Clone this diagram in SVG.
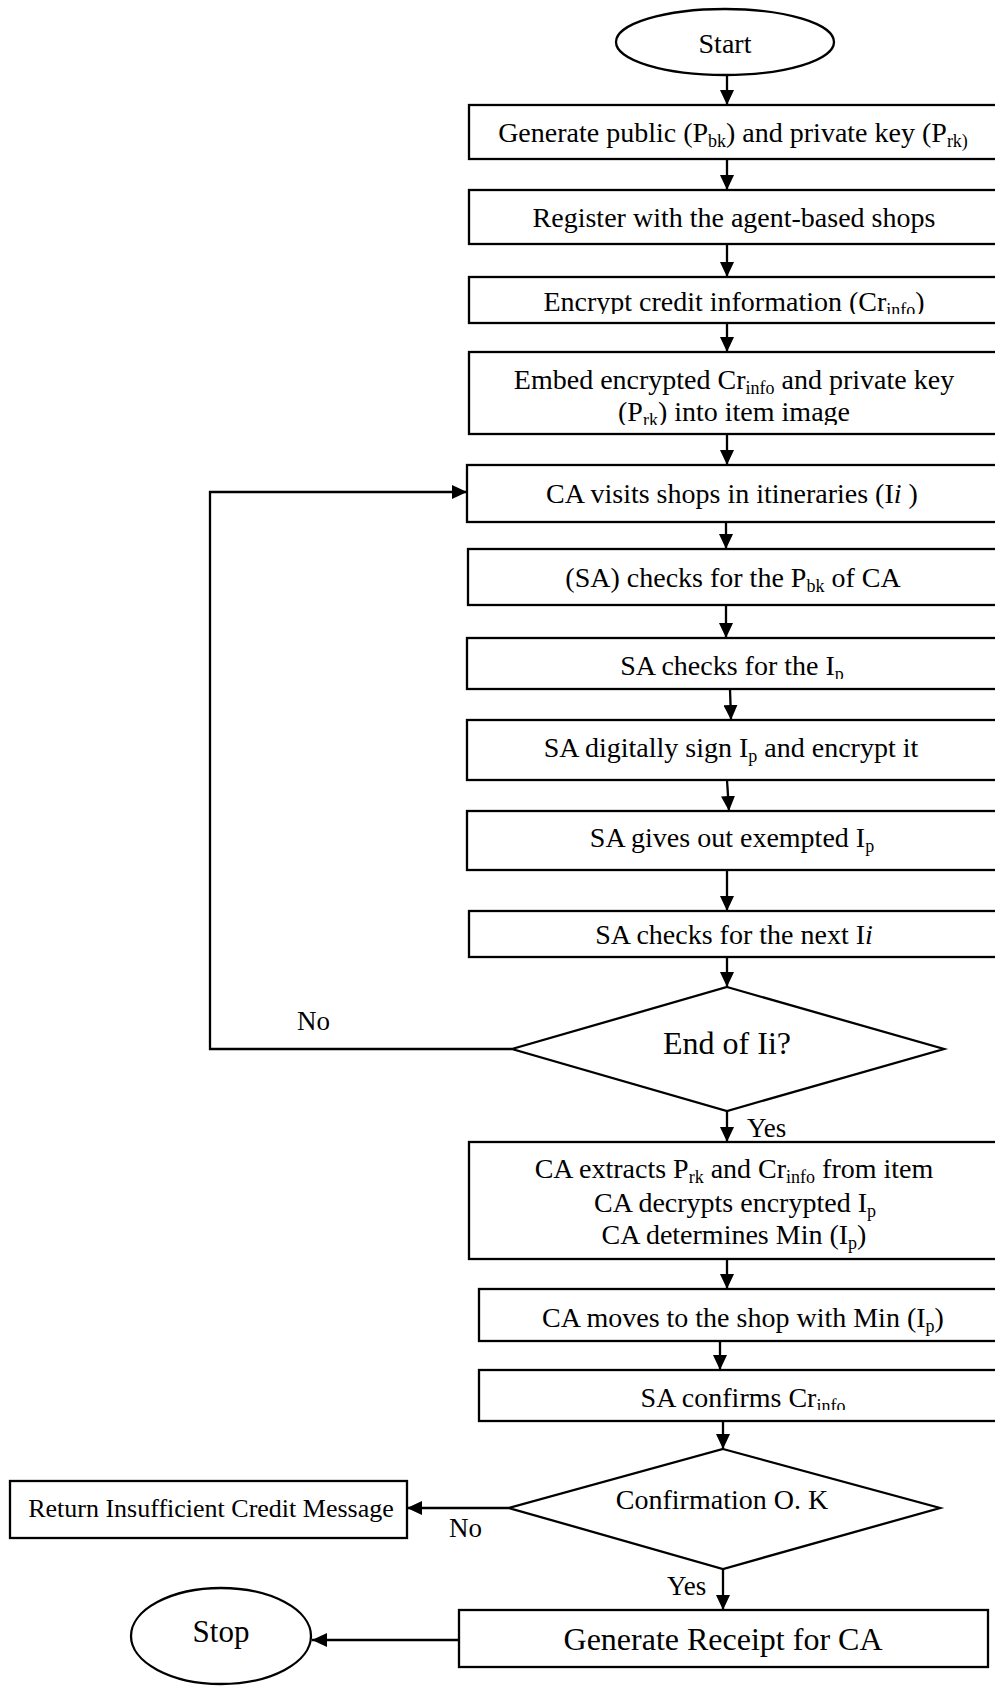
<svg xmlns="http://www.w3.org/2000/svg" width="995" height="1687" viewBox="0 0 995 1687">
<style>
.b{fill:#fff;stroke:#000;stroke-width:2.3}
.t{font-family:"Liberation Serif","Times New Roman",serif;font-size:28px;text-anchor:middle;fill:#000}
.s{font-size:18px}
.big{font-size:32px}
.lbl{font-family:"Liberation Serif","Times New Roman",serif;font-size:27px;fill:#000}
.c{fill:none;stroke:#000;stroke-width:2.3}
</style>
<defs>
<marker id="ah" markerUnits="userSpaceOnUse" markerWidth="15" markerHeight="14" refX="15" refY="7" orient="auto">
<path d="M0,0 L15,7 L0,14 z" fill="#000"/>
</marker>
<clipPath id="cp3"><rect x="469" y="277" width="530" height="37"/></clipPath>
<clipPath id="cp4"><rect x="469" y="352" width="530" height="73"/></clipPath>
<clipPath id="cp7"><rect x="467" y="638" width="532" height="41"/></clipPath>
<clipPath id="cp13"><rect x="479" y="1370" width="520" height="40"/></clipPath>
</defs>
<g id="connectors">
<line class="c" x1="727" y1="75" x2="727" y2="105" marker-end="url(#ah)"/>
<line class="c" x1="727" y1="159" x2="727" y2="190" marker-end="url(#ah)"/>
<line class="c" x1="727" y1="244" x2="727" y2="277" marker-end="url(#ah)"/>
<line class="c" x1="727" y1="323" x2="727" y2="352" marker-end="url(#ah)"/>
<line class="c" x1="727" y1="434" x2="727" y2="465" marker-end="url(#ah)"/>
<line class="c" x1="726" y1="522" x2="726" y2="549" marker-end="url(#ah)"/>
<line class="c" x1="726" y1="605" x2="726" y2="638" marker-end="url(#ah)"/>
<line class="c" x1="730" y1="689" x2="731" y2="720" marker-end="url(#ah)"/>
<line class="c" x1="727" y1="780" x2="729" y2="811" marker-end="url(#ah)"/>
<line class="c" x1="727" y1="870" x2="727" y2="911" marker-end="url(#ah)"/>
<line class="c" x1="727" y1="957" x2="727" y2="987" marker-end="url(#ah)"/>
<line class="c" x1="727" y1="1111" x2="727" y2="1142" marker-end="url(#ah)"/>
<line class="c" x1="727" y1="1259" x2="727" y2="1289" marker-end="url(#ah)"/>
<line class="c" x1="720" y1="1341" x2="720" y2="1370" marker-end="url(#ah)"/>
<line class="c" x1="723" y1="1421" x2="723" y2="1449" marker-end="url(#ah)"/>
<line class="c" x1="723" y1="1569" x2="723" y2="1610" marker-end="url(#ah)"/>
<line class="c" x1="509" y1="1508" x2="407" y2="1508" marker-end="url(#ah)"/>
<line class="c" x1="459" y1="1640" x2="312" y2="1640" marker-end="url(#ah)"/>
<polyline class="c" points="512,1049 210,1049 210,492 467,492" marker-end="url(#ah)"/>
<text class="lbl" x="297" y="1030">No</text>
<text class="lbl" x="747" y="1137">Yes</text>
<text class="lbl" x="449" y="1537">No</text>
<text class="lbl" x="667" y="1595">Yes</text>
</g>
<g id="start">
<ellipse class="b" cx="725" cy="42" rx="109" ry="33"/>
<text class="t" x="725" y="53">Start</text>
</g>
<g id="n1">
<rect class="b" x="469" y="105" width="530" height="54"/>
<text class="t" x="733" y="142">Generate public (P<tspan class="s" dy="5">bk</tspan><tspan dy="-5">) and private key (P</tspan><tspan class="s" dy="5">rk)</tspan></text>
</g>
<g id="n2">
<rect class="b" x="469" y="190" width="530" height="54"/>
<text class="t" x="734" y="227">Register with the agent-based shops</text>
</g>
<g id="n3">
<rect class="b" x="469" y="277" width="530" height="46"/>
<text class="t" x="734" y="311" clip-path="url(#cp3)">Encrypt credit information (Cr<tspan class="s" dy="5">info</tspan><tspan dy="-5">)</tspan></text>
</g>
<g id="n4">
<rect class="b" x="469" y="352" width="530" height="82"/>
<g clip-path="url(#cp4)">
<text class="t" x="734" y="389">Embed encrypted Cr<tspan class="s" dy="5">info</tspan><tspan dy="-5"> and private key</tspan></text>
<text class="t" x="734" y="421">(P<tspan class="s" dy="5">rk</tspan><tspan dy="-5">) into item image</tspan></text>
</g>
</g>
<g id="n5">
<rect class="b" x="467" y="465" width="532" height="57"/>
<text class="t" x="732" y="503">CA visits shops in itineraries (I<tspan font-style="italic">i</tspan> )</text>
</g>
<g id="n6">
<rect class="b" x="468" y="549" width="531" height="56"/>
<text class="t" x="733" y="587">(SA) checks for the P<tspan class="s" dy="5">bk</tspan><tspan dy="-5"> of CA</tspan></text>
</g>
<g id="n7">
<rect class="b" x="467" y="638" width="532" height="51"/>
<text class="t" x="732" y="675" clip-path="url(#cp7)">SA checks for the I<tspan class="s" dy="5">p</tspan></text>
</g>
<g id="n8">
<rect class="b" x="467" y="720" width="532" height="60"/>
<text class="t" x="731" y="757">SA digitally sign I<tspan class="s" dy="5">p</tspan><tspan dy="-5"> and encrypt it</tspan></text>
</g>
<g id="n9">
<rect class="b" x="467" y="811" width="532" height="59"/>
<text class="t" x="732" y="847">SA gives out exempted I<tspan class="s" dy="5">p</tspan></text>
</g>
<g id="n10">
<rect class="b" x="469" y="911" width="530" height="46"/>
<text class="t" x="734" y="944">SA checks for the next I<tspan font-style="italic">i</tspan></text>
</g>
<g id="d1">
<polygon class="b" points="727,987 944,1049 727,1111 512,1049"/>
<text class="t big" x="727" y="1054">End of Ii?</text>
</g>
<g id="n11">
<rect class="b" x="469" y="1142" width="530" height="117"/>
<text class="t" x="734" y="1178">CA extracts P<tspan class="s" dy="5">rk</tspan><tspan dy="-5"> and Cr</tspan><tspan class="s" dy="5">info</tspan><tspan dy="-5"> from item</tspan></text>
<text class="t" x="735" y="1212">CA decrypts encrypted I<tspan class="s" dy="5">p</tspan></text>
<text class="t" x="734" y="1244">CA determines Min (I<tspan class="s" dy="5">p</tspan><tspan dy="-5">)</tspan></text>
</g>
<g id="n12">
<rect class="b" x="479" y="1289" width="520" height="52"/>
<text class="t" x="743" y="1327">CA moves to the shop with Min (I<tspan class="s" dy="5">p</tspan><tspan dy="-5">)</tspan></text>
</g>
<g id="n13">
<rect class="b" x="479" y="1370" width="520" height="51"/>
<text class="t" x="743" y="1407" clip-path="url(#cp13)">SA confirms Cr<tspan class="s" dy="5">info</tspan></text>
</g>
<g id="d2">
<polygon class="b" points="723,1449 940,1508 723,1569 509,1508"/>
<text class="t" x="722" y="1509">Confirmation O. K</text>
</g>
<g id="n15">
<rect class="b" x="10" y="1481" width="397" height="57"/>
<text class="t" x="211" y="1517" style="font-size:26px">Return Insufficient Credit Message</text>
</g>
<g id="n14">
<rect class="b" x="459" y="1610" width="529" height="57"/>
<text class="t big" x="723" y="1650">Generate Receipt for CA</text>
</g>
<g id="stop">
<ellipse class="b" cx="221" cy="1636" rx="90" ry="48"/>
<text class="t" x="221" y="1642" style="font-size:31px">Stop</text>
</g>
</svg>
